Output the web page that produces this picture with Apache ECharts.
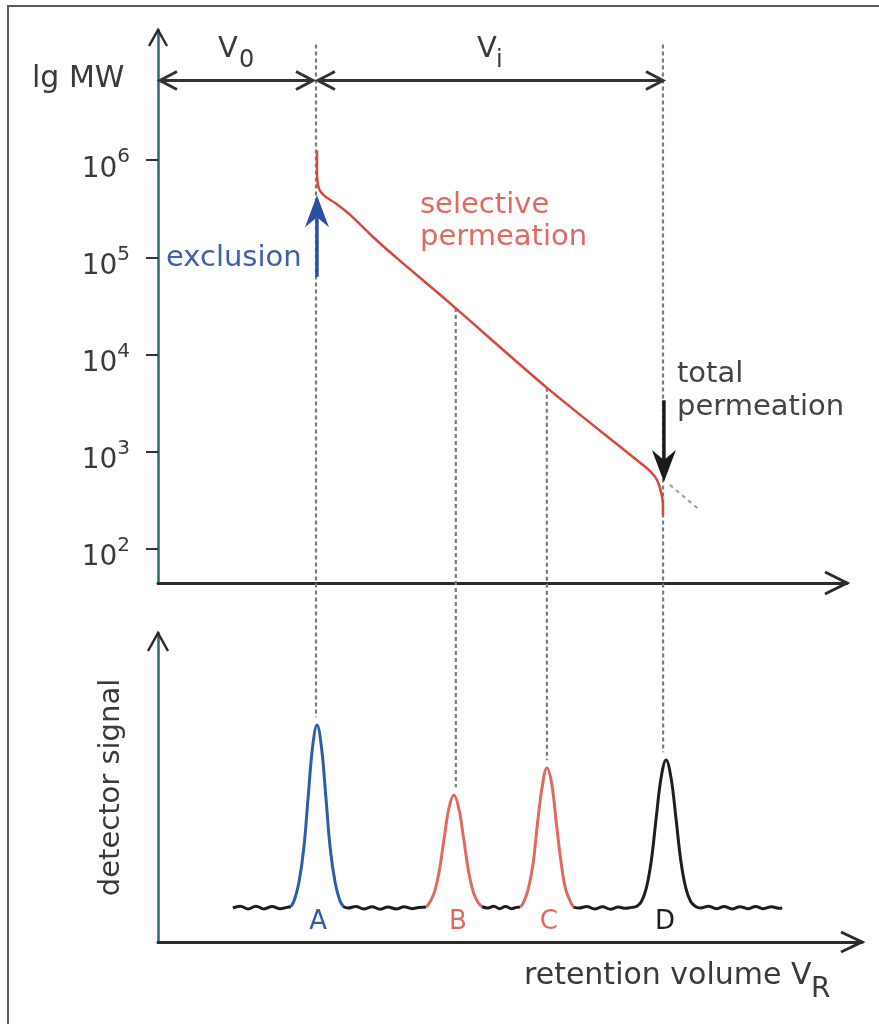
<!DOCTYPE html>
<html>
<head>
<meta charset="utf-8">
<script src="https://cdn.jsdelivr.net/npm/echarts@6/dist/echarts.min.js"></script>
<style>
html, body { margin: 0; padding: 0; background: #fff; }
#main { width: 879px; height: 1024px; }
</style>
</head>
<body>
<div id="main"></div>
<script>
// calibration curve (upper panel): retention volume vs lg MW
var calVol  = [3.23, 3.23, 3.27, 3.39, 3.60, 3.90, 4.37, 4.86, 5.93, 7.90, 9.79, 10.00, 10.14, 10.22, 10.26, 10.26];
var calLgMW = [6.10, 5.88, 5.71, 5.63, 5.56, 5.44, 5.21, 4.99, 4.53, 3.66, 2.89, 2.80, 2.71, 2.59, 2.45, 2.35];
// dotted continuation of the linear part
var extVol  = [10.40, 11.01];
var extLgMW = [2.66, 2.40];
var lgTicks = [2, 3, 4, 5, 6];

// peaks: position, height in lower panel, start of dotted guide (lg MW)
var peakNames = ['A', 'B', 'C', 'D'];
var peakVol   = [3.21, 6.05, 7.90, 10.26];
var peakTop   = [70.2, 47.6, 56.3, 58.9];
var guideFrom = [7.19, 4.48, 3.66, 7.19];
var peakColors = ['#2f5ca8', '#e06a5f', '#e06a5f', '#1e1e1e'];

// V0 / Vi spans, drawn at lg MW = 6.82
var v0Span = [0.04, 3.15];
var viSpan = [3.25, 10.26];

// detector trace (lower panel), split where the colour changes
var baseA  = [[1.52,11.0],[1.67,11.6],[1.83,10.7],[1.99,11.6],[2.15,10.7],[2.32,11.5],[2.48,10.8],[2.62,11.2],[2.70,11.4]];
var peakA  = [[2.70,11.4],[2.77,13.6],[2.86,19.1],[2.96,30.1],[3.05,46.9],[3.14,63.1],[3.23,70.2],[3.32,63.1],[3.41,46.9],[3.50,30.1],[3.60,19.1],[3.69,13.6],[3.76,11.5]];
var baseAB = [[3.76,11.5],[3.86,11.0],[4.02,11.5],[4.18,10.7],[4.35,11.4],[4.51,10.6],[4.67,11.3],[4.84,10.7],[5.00,11.4],[5.16,10.8],[5.30,11.2],[5.45,11.3]];
var peakB  = [[5.45,11.3],[5.51,12.6],[5.61,15.9],[5.71,22.7],[5.81,33.3],[5.91,43.3],[6.01,47.6],[6.11,43.3],[6.21,33.3],[6.31,22.7],[6.41,15.9],[6.51,12.6],[6.58,11.4]];
var baseBC = [[6.58,11.4],[6.70,11.0],[6.82,11.6],[6.94,10.8],[7.06,11.5],[7.18,10.8],[7.28,11.2],[7.36,11.3]];
var peakC  = [[7.36,11.3],[7.43,13.0],[7.52,17.1],[7.62,25.5],[7.71,38.6],[7.81,50.9],[7.90,56.3],[8.00,50.9],[8.09,38.6],[8.19,25.5],[8.28,17.1],[8.38,13.0],[8.44,11.3]];
var tailCD = [[8.44,11.3],[8.55,11.0],[8.71,11.5],[8.87,10.7],[9.03,11.4],[9.19,10.6],[9.35,11.3],[9.50,10.9],[9.62,11.2],[9.72,11.5],[9.82,13.1],[9.92,17.5],[10.02,26.3],[10.12,40.2],[10.22,53.2],[10.32,58.9],[10.42,53.2],[10.52,40.2],[10.62,26.3],[10.72,17.5],[10.82,13.1],[10.92,11.5],[11.02,11.0],[11.18,11.6],[11.34,10.8],[11.50,11.5],[11.66,10.7],[11.82,11.4],[11.98,10.8],[12.14,11.5],[12.30,10.8],[12.46,11.4],[12.62,10.9],[12.68,11.0]];

var FONT = 'DejaVu Sans';
var TXT = '#3a3a3a';

function zip(a, b) {
  var out = [];
  for (var i = 0; i < a.length; i++) out.push([a[i], b[i]]);
  return out;
}

function trace(data, color) {
  return {
    type: 'line', xAxisIndex: 1, yAxisIndex: 1, data: data,
    symbol: 'none', smooth: 0.4, silent: true, z: 4,
    lineStyle: { color: color, width: 3 }
  };
}

var hiddenX = {
  axisTick: { show: false }, axisLabel: { show: false }, splitLine: { show: false },
  axisLine: { lineStyle: { color: '#2b2b2b', width: 3 } }
};

var option = {
  animation: false,
  backgroundColor: '#fff',
  textStyle: { fontFamily: FONT },
  grid: [
    { left: 158, top: 30, width: 689, height: 553 },
    { left: 158, top: 633, width: 704, height: 309 }
  ],
  xAxis: [
    Object.assign({ gridIndex: 0, type: 'value', min: 0, max: 14 }, hiddenX),
    Object.assign({ gridIndex: 1, type: 'value', min: 0, max: 14.3 }, hiddenX)
  ],
  yAxis: [{
    gridIndex: 0, type: 'value', min: 1.65, max: 7.34,
    splitLine: { show: false },
    axisLine: { show: true, lineStyle: { color: '#2f6872', width: 2.5 } },
    axisTick: { show: true, length: 12, customValues: lgTicks, lineStyle: { color: '#333', width: 2 } },
    axisLabel: {
      customValues: lgTicks, margin: 28,
      formatter: function (v) { return '{b|10}{s|' + v + '}'; },
      rich: {
        b: { fontFamily: FONT, fontSize: 28, color: TXT, padding: [18, 0, 0, 0] },
        s: { fontFamily: FONT, fontSize: 20, color: TXT, padding: [0, 0, 6, 0] }
      }
    }
  }, {
    gridIndex: 1, type: 'value', min: 0, max: 100,
    splitLine: { show: false }, axisTick: { show: false }, axisLabel: { show: false },
    axisLine: { show: true, lineStyle: { color: '#2f6872', width: 2.5 } },
    name: 'detector signal', nameLocation: 'middle', nameRotate: 90, nameGap: 32,
    nameTextStyle: { fontFamily: FONT, fontSize: 29, color: TXT }
  }],
  series: [
    {
      type: 'line', xAxisIndex: 0, yAxisIndex: 0, data: zip(calVol, calLgMW),
      symbol: 'none', smooth: 0.3, silent: true, z: 5,
      lineStyle: { color: '#d8473a', width: 2.5 }
    },
    {
      type: 'line', xAxisIndex: 0, yAxisIndex: 0, data: zip(extVol, extLgMW),
      symbol: 'none', silent: true, z: 3,
      lineStyle: { color: '#a0a0a0', width: 2, type: [4, 4] }
    },
    trace(baseA, '#1e1e1e'),
    trace(peakA, '#2f5ca8'),
    trace(baseAB, '#1e1e1e'),
    trace(peakB, '#e06a5f'),
    trace(baseBC, '#1e1e1e'),
    trace(peakC, '#e06a5f'),
    trace(tailCD, '#1e1e1e')
  ]
};

var chart = echarts.init(document.getElementById('main'));
chart.setOption(option);

function P(g, x, y) { return chart.convertToPixel({ gridIndex: g }, [x, y]); }

// open arrow head: tip, direction (dx,dy), length, half width
function chevron(tip, dx, dy, len, half, color, w) {
  var bx = tip[0] - dx * len, by = tip[1] - dy * len;
  return {
    type: 'polyline', z: 10, silent: true,
    shape: { points: [[bx - dy * half, by + dx * half], tip, [bx + dy * half, by - dx * half]] },
    style: { stroke: color, lineWidth: w || 2.5, fill: null }
  };
}
function line(a, b, color, w, dash, z) {
  return {
    type: 'line', z: z || 10, silent: true,
    shape: { x1: a[0], y1: a[1], x2: b[0], y2: b[1] },
    style: { stroke: color, lineWidth: w, lineDash: dash || null }
  };
}
// filled notched arrow head
function head(tip, dir, color) {
  var s = dir; // +1 pointing down, -1 pointing up
  return {
    type: 'polygon', z: 10, silent: true,
    shape: { points: [tip, [tip[0] - 12, tip[1] - s * 32], [tip[0], tip[1] - s * 22], [tip[0] + 12, tip[1] - s * 32]] },
    style: { fill: color }
  };
}
function text(str, x, y, size, color, align) {
  return {
    type: 'text', z: 10, silent: true, x: x, y: y,
    style: {
      text: str, fontFamily: FONT, fontSize: size, fill: color,
      align: align || 'left', textAlign: align || 'left',
      verticalAlign: 'middle', textVerticalAlign: 'middle'
    }
  };
}

var g = [];
// frame
g.push({ type: 'rect', z: 0, silent: true, shape: { x: 8, y: 6, width: 900, height: 1100 },
  style: { fill: null, stroke: '#5a5a5a', lineWidth: 2 } });

// dotted guides through both panels
for (var i = 0; i < peakNames.length; i++) {
  var a = P(0, peakVol[i], guideFrom[i]);
  var b = P(1, peakVol[i], peakTop[i] + 2.5);
  g.push(line(a, b, '#7c7c7c', 2.2, [4, 3], 1));
}

// axis arrow heads
var yTop0 = P(0, 0, 7.34), xEnd0 = P(0, 14, 1.65);
var yTop1 = P(1, 0, 100), xEnd1 = P(1, 14.3, 0);
g.push(chevron(yTop0, 0, -1, 16, 9, '#2b2b2b'));
g.push(chevron(xEnd0, 1, 0, 22, 11, '#2b2b2b', 3));
g.push(chevron(yTop1, 0, -1, 18, 10, '#2b2b2b'));
g.push(chevron(xEnd1, 1, 0, 21, 10, '#2b2b2b', 3));

// V0 and Vi double arrows
[v0Span, viSpan].forEach(function (sp) {
  var l = P(0, sp[0], 6.82), r = P(0, sp[1], 6.82);
  g.push(line(l, r, '#333', 3));
  g.push(chevron(l, -1, 0, 17, 9, '#333', 3));
  g.push(chevron(r, 1, 0, 17, 9, '#333', 3));
});

// exclusion arrow (up) and total permeation arrow (down)
var exTip = P(0, 3.23, 5.64), exBase = P(0, 3.23, 4.80);
g.push(line(exBase, [exTip[0], exTip[1] + 22], '#2b4fa3', 3.5));
g.push(head(exTip, -1, '#2b4fa3'));
var tpTip = P(0, 10.28, 2.69), tpBase = P(0, 10.28, 3.53);
g.push(line(tpBase, [tpTip[0], tpTip[1] - 20], '#1a1a1a', 3.5));
g.push(head(tpTip, 1, '#1a1a1a'));

// texts
g.push(text('lg MW', 32, 79, 30, TXT));
g.push(text('V', 218, 49, 29, TXT));
g.push(text('0', 239, 61, 24, TXT));
g.push(text('V', 477, 49, 29, TXT));
g.push(text('i', 496, 61, 24, TXT));
g.push(text('exclusion', 166, 258, 29, '#3d5fad'));
g.push(text('selective', 420, 205, 29, '#e06a5f'));
g.push(text('permeation', 420, 237, 29, '#e06a5f'));
g.push(text('total', 677, 374, 29, '#444'));
g.push(text('permeation', 677, 407, 29, '#444'));
for (var k = 0; k < peakNames.length; k++) {
  var p = P(1, peakVol[k], 0);
  g.push(text(peakNames[k], p[0] + 2, 922, 26, peakColors[k], 'center'));
}
g.push(text('retention volume V', 524, 976, 30, TXT));
g.push(text('R', 811, 990, 28, TXT));

chart.setOption({ graphic: { elements: g } });
</script>
</body>
</html>
